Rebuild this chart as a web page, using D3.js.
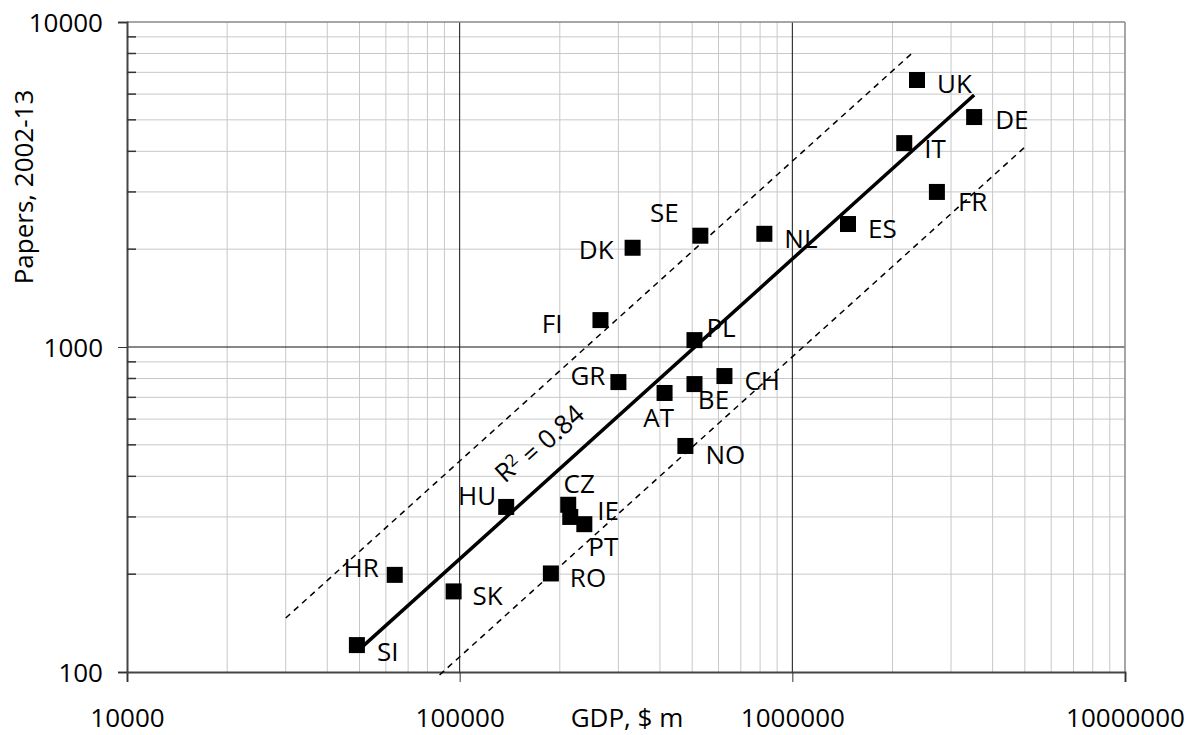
<!DOCTYPE html>
<html>
<head>
<meta charset="utf-8">
<script src="https://cdn.jsdelivr.net/npm/d3@7"></script>
<style>
  body { margin: 0; background: #fff; }
  svg text { font-family: "Open Sans", "Noto Sans", sans-serif; fill: #000; }
</style>
</head>
<body>
<svg id="chart" width="1191" height="735"></svg>
<script>
// data
const countries = ["UK","DE","IT","FR","ES","NL","SE","DK","FI","PL","GR","AT","BE","CH","NO","HU","CZ","IE","PT","RO","HR","SK","SI"];
const gdp = [2370000,3520000,2170000,2720000,1470000,824000,529000,331000,265000,508000,300000,413000,508000,625000,477000,138000,212000,215000,237000,188000,63800,95900,49100];
const papers = [6630,5100,4240,3000,2390,2230,2200,2020,1210,1050,780,722,769,814,496,322,327,300,285,201,199,177,121];
const xTicks = [10000, 100000, 1000000, 10000000];
const yTicks = [100, 1000, 10000];
const xTitle = "GDP, $ m";
const yTitle = "Papers, 2002-13";
const r2Value = "0.84";
const bandFactor = 2;
const upperRange = [30000, 2300000];
const lowerRange = [87000, 5000000];

// label placement: [dx, dy, anchor]
const labelPos = {
  UK: [20, 3, "start"], DE: [21, 2, "start"], IT: [20, 5, "start"], FR: [21, 9, "start"],
  ES: [20, 4, "start"], NL: [20, 4, "start"], SE: [-36, -24, "middle"], DK: [-19, 1, "end"],
  FI: [-38, 3, "end"], PL: [12, -13, "start"], GR: [-13, -7, "end"], AT: [-6, 24, "middle"],
  BE: [19, 15, "middle"], CH: [20, 4, "start"], NO: [20, 8, "start"], HU: [-10, -12, "end"],
  CZ: [11, -22, "middle"], IE: [27, -7, "start"], PT: [19, 22, "middle"], RO: [19, 4, "start"],
  HR: [-16, -8, "end"], SK: [19, 4, "start"], SI: [20, 6, "start"]
};

const fontSize = "26px";
const svg = d3.select("#chart");
const mLeft = 127, mRight = 1125, mTop = 22, mBottom = 672;

const x = d3.scaleLog().domain([10000, 10000000]).range([mLeft, mRight]);
const y = d3.scaleLog().domain([100, 10000]).range([mBottom, mTop]);

// minor + major grid
function minorTicks(dom) {
  let out = [];
  for (let d = dom[0]; d < dom[1]; d *= 10)
    for (let k = 2; k <= 9; k++) out.push(d * k);
  return out;
}
const xMinor = minorTicks(x.domain());
const yMinor = minorTicks(y.domain());

svg.append("g").selectAll("line").data(xMinor).enter().append("line")
  .attr("x1", d => x(d)).attr("x2", d => x(d))
  .attr("y1", mTop).attr("y2", mBottom)
  .style("stroke", "#c8c8c8").style("stroke-width", 1);
svg.append("g").selectAll("line").data(yMinor).enter().append("line")
  .attr("x1", mLeft).attr("x2", mRight)
  .attr("y1", d => y(d)).attr("y2", d => y(d))
  .style("stroke", "#c8c8c8").style("stroke-width", 1);

svg.append("g").selectAll("line").data(xTicks.slice(1, -1)).enter().append("line")
  .attr("x1", d => x(d)).attr("x2", d => x(d))
  .attr("y1", mTop).attr("y2", mBottom)
  .style("stroke", "#111").style("stroke-width", 1);
svg.append("g").selectAll("line").data(yTicks.slice(1, -1)).enter().append("line")
  .attr("x1", mLeft).attr("x2", mRight)
  .attr("y1", d => y(d)).attr("y2", d => y(d))
  .style("stroke", "#111").style("stroke-width", 1);

// plot border top/right
svg.append("line").attr("x1", mLeft).attr("x2", mRight).attr("y1", mTop).attr("y2", mTop)
  .style("stroke", "#888").style("stroke-width", 1.5);
svg.append("line").attr("x1", mRight).attr("x2", mRight).attr("y1", mTop).attr("y2", mBottom)
  .style("stroke", "#888").style("stroke-width", 1.5);

// axes
let xAxis = svg.append("g")
  .attr("transform", "translate(0," + mBottom + ")")
  .call(d3.axisBottom(x).tickValues(xTicks).tickFormat(d3.format("d")).tickSize(10));
xAxis.select(".domain").style("stroke", "#444").style("stroke-width", 2);
xAxis.selectAll(".tick line").style("stroke", "#333");
xAxis.selectAll("text").style("font-size", fontSize).attr("y", 46).attr("dy", "0.35em");

let yAxis = svg.append("g")
  .attr("transform", "translate(" + mLeft + ",0)")
  .call(d3.axisLeft(y).tickValues(yTicks).tickFormat(d3.format("d")).tickSize(9).tickPadding(15));
yAxis.select(".domain").style("stroke", "#444").style("stroke-width", 2);
yAxis.selectAll(".tick line").style("stroke", "#333");
yAxis.selectAll("text").style("font-size", fontSize).attr("dy", "0.38em");

// inner minor ticks on y axis
svg.append("g").selectAll("line").data(yMinor).enter().append("line")
  .attr("x1", mLeft).attr("x2", mLeft + 9)
  .attr("y1", d => y(d)).attr("y2", d => y(d))
  .style("stroke", "#333").style("stroke-width", 1.5);

// axis titles
svg.append("text")
  .attr("x", 627).attr("y", mBottom + 46).attr("dy", "0.35em")
  .attr("text-anchor", "middle")
  .style("font-size", fontSize)
  .text(xTitle);
svg.append("text")
  .attr("transform", "translate(23,187) rotate(-90)")
  .attr("text-anchor", "middle").attr("dominant-baseline", "central")
  .style("font-size", fontSize)
  .text(yTitle);

// power fit in log space
const lx = gdp.map(Math.log10), ly = papers.map(Math.log10);
const mx = d3.mean(lx), my = d3.mean(ly);
const slope = d3.sum(lx, (v, i) => (v - mx) * (ly[i] - my)) / d3.sum(lx, v => (v - mx) ** 2);
const icpt = my - slope * mx;
const fit = g => Math.pow(10, icpt + slope * Math.log10(g));

const line = d3.line().x(d => x(d[0])).y(d => y(d[1]));
const gmin = d3.min(gdp), gmax = d3.max(gdp);

svg.append("path")
  .attr("d", line([[upperRange[0], fit(upperRange[0]) * bandFactor], [upperRange[1], fit(upperRange[1]) * bandFactor]]))
  .style("fill", "none").style("stroke", "#000").style("stroke-width", 1.5)
  .style("stroke-dasharray", "6,5");
svg.append("path")
  .attr("d", line([[lowerRange[0], fit(lowerRange[0]) / bandFactor], [lowerRange[1], fit(lowerRange[1]) / bandFactor]]))
  .style("fill", "none").style("stroke", "#000").style("stroke-width", 1.5)
  .style("stroke-dasharray", "6,5");

// points
svg.append("g").selectAll("rect").data(countries).enter().append("rect")
  .attr("x", (d, i) => x(gdp[i]) - 8)
  .attr("y", (d, i) => y(papers[i]) - 8)
  .attr("width", 16).attr("height", 16)
  .style("fill", "#000");

svg.append("path")
  .attr("d", line([[gmin, fit(gmin)], [gmax, fit(gmax)]]))
  .style("fill", "none").style("stroke", "#000").style("stroke-width", 3.5);

svg.append("g").selectAll("text").data(countries).enter().append("text")
  .attr("x", (d, i) => x(gdp[i]) + labelPos[d][0])
  .attr("y", (d, i) => y(papers[i]) + labelPos[d][1])
  .attr("text-anchor", d => labelPos[d][2])
  .attr("dominant-baseline", "central")
  .style("font-size", fontSize)
  .text(d => d);

// R^2 label along the band
const angle = -Math.atan(slope * ((y.range()[0] - y.range()[1]) / 2) / ((x.range()[1] - x.range()[0]) / 3)) * 180 / Math.PI;
let r2 = svg.append("text")
  .attr("transform", "translate(538,442) rotate(" + angle + ")")
  .attr("text-anchor", "middle")
  .attr("dy", "0.35em")
  .style("font-size", fontSize);
r2.append("tspan").text("R");
r2.append("tspan").attr("dy", "-0.45em").style("font-size", "17px").text("2");
r2.append("tspan").attr("dy", "0.45em").text(" = " + r2Value);
</script>
</body>
</html>
